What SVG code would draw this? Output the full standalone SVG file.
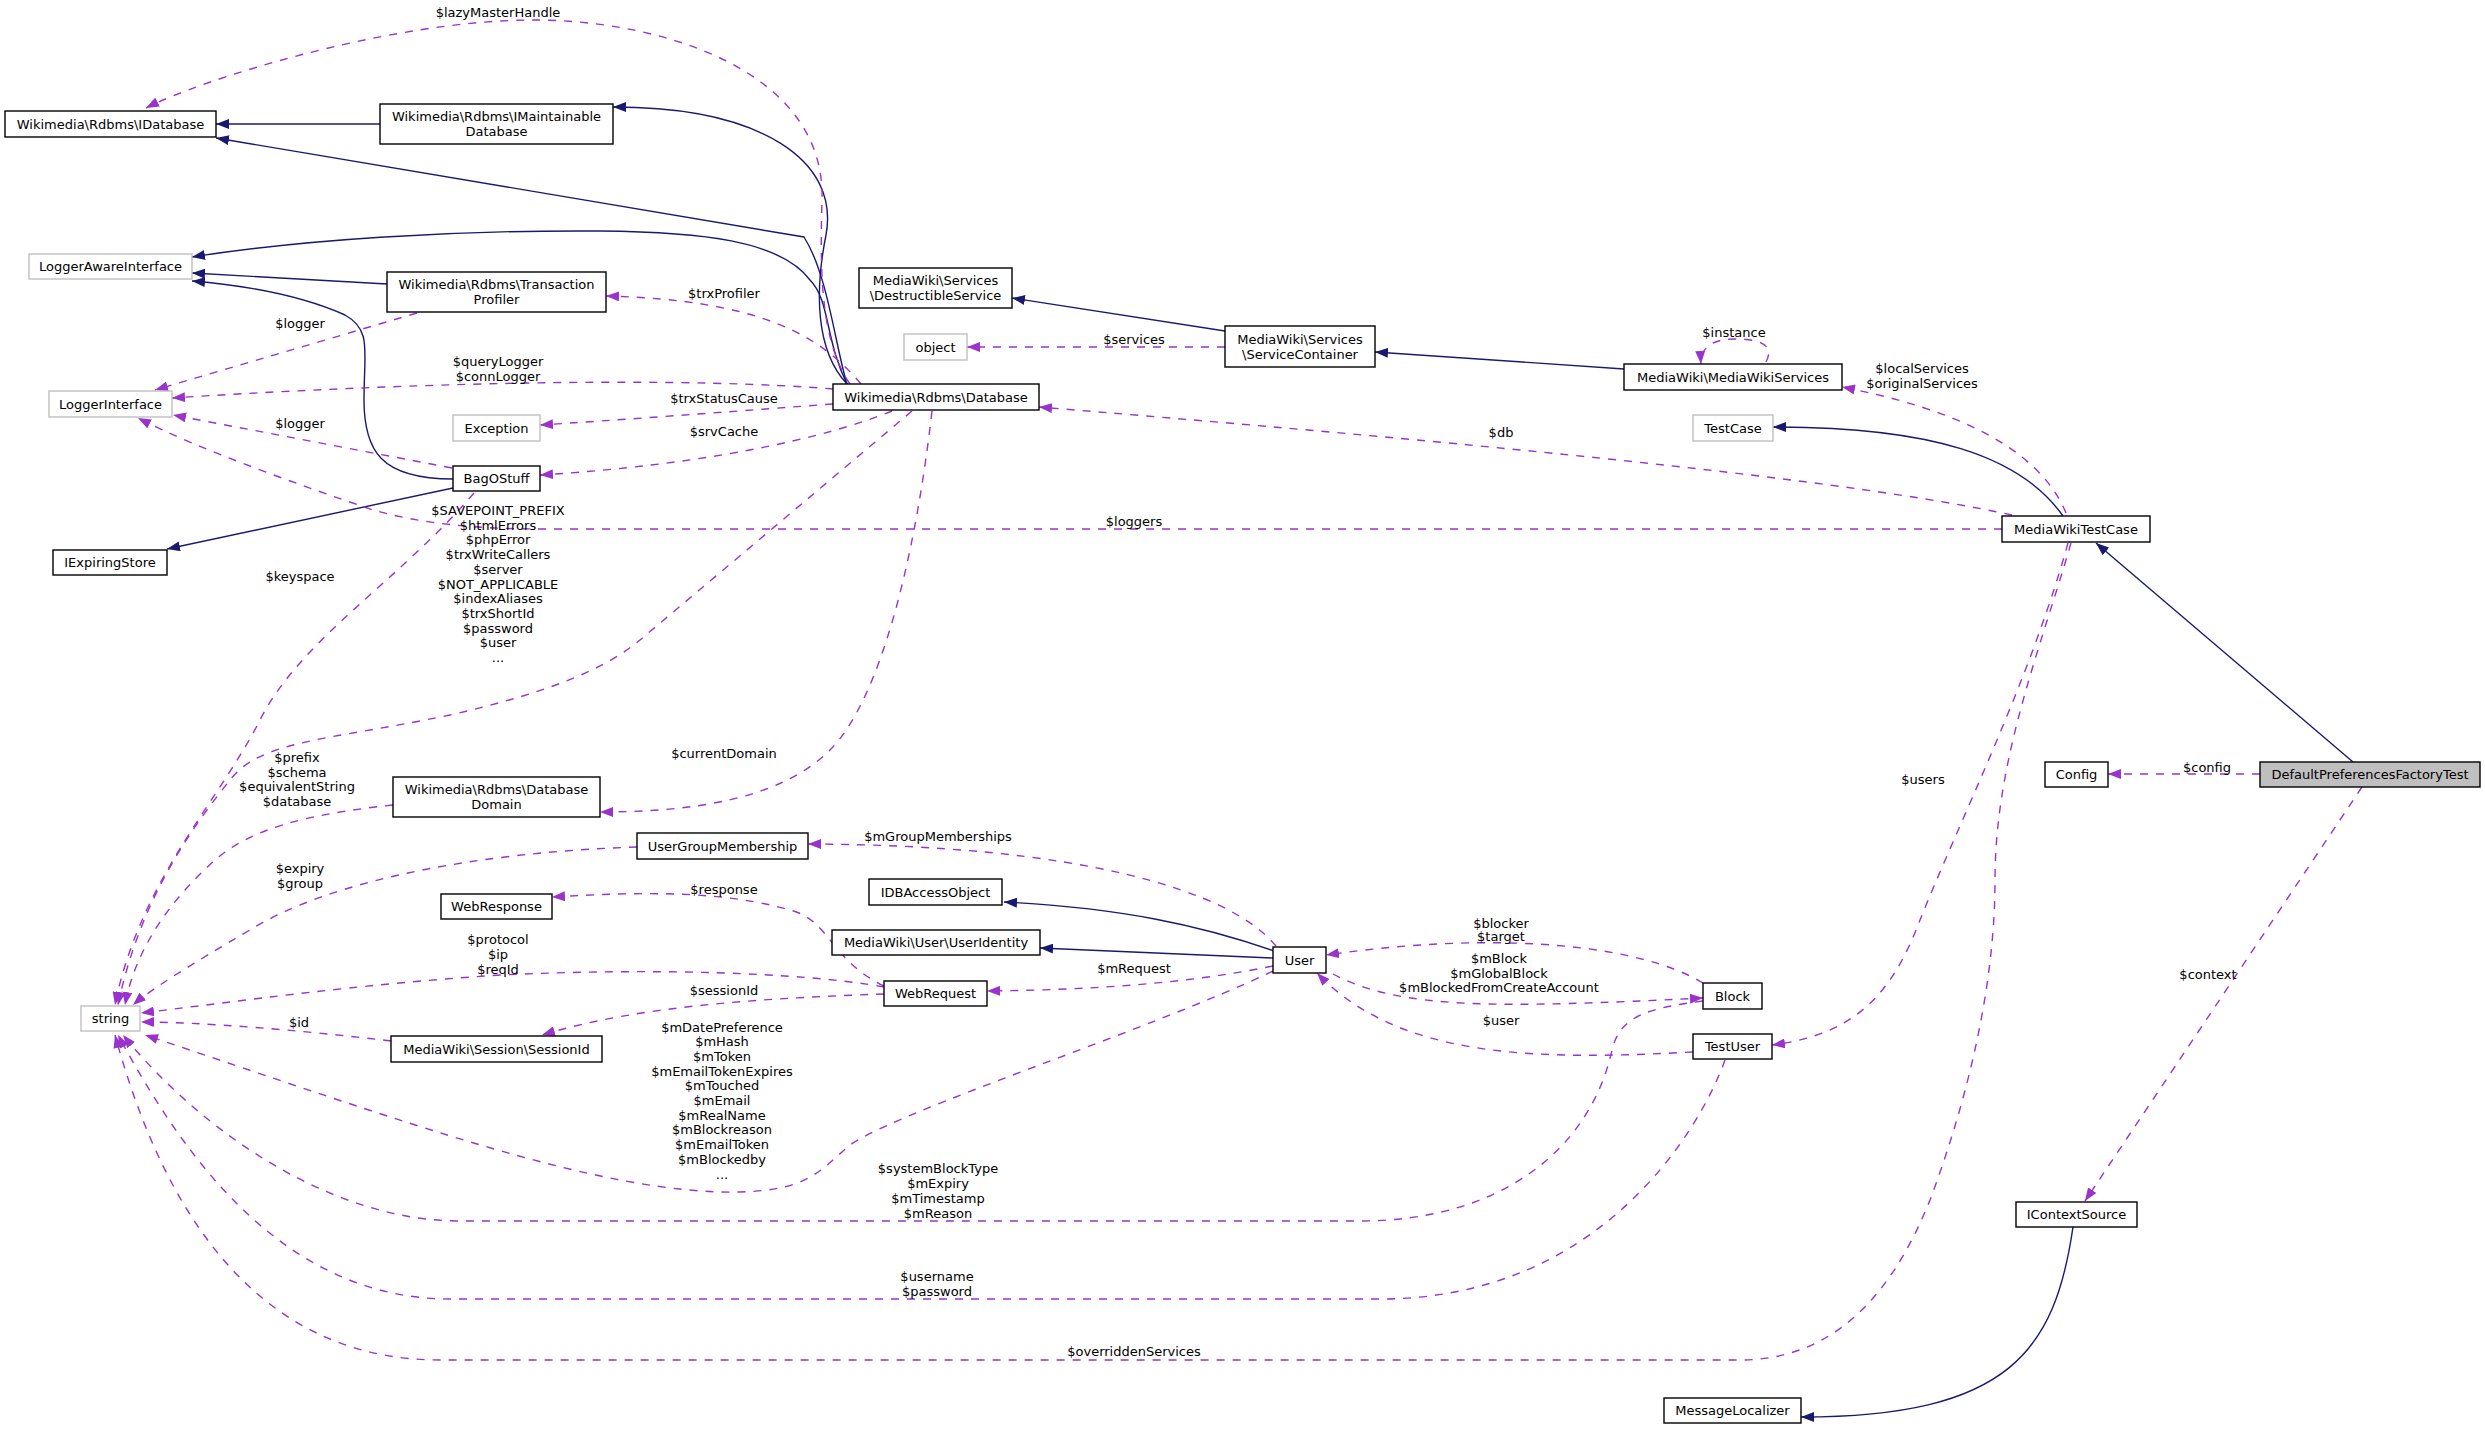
<svg xmlns="http://www.w3.org/2000/svg" width="2485" height="1429" viewBox="0 0 2485 1429">
<style>
.n rect{fill:#fff;stroke:#000;stroke-width:1.4}
.n.g rect{stroke:#bfbfbf}
.n.root rect{fill:#bfbfbf}
text{font-family:"DejaVu Sans","Liberation Sans",sans-serif;font-size:13px;fill:#000;text-anchor:middle}
.i{fill:none;stroke:#191970;stroke-width:1.4;marker-end:url(#ai)}
.u{fill:none;stroke:#9a32cd;stroke-width:1.4;stroke-dasharray:8,8;marker-end:url(#au)}
</style>
<defs>
<marker id="ai" markerUnits="userSpaceOnUse" markerWidth="14" markerHeight="10" refX="13" refY="5" orient="auto"><path d="M0,0 L13,5 L0,10 z" fill="#191970"/></marker>
<marker id="au" markerUnits="userSpaceOnUse" markerWidth="14" markerHeight="10" refX="13" refY="5" orient="auto"><path d="M0,0 L13,5 L0,10 z" fill="#9a32cd"/></marker>
</defs>
<rect width="2485" height="1429" fill="#fff"/>
<g id="connectors">
<path class="i" d="M380,124 L216,124"/>
<path class="i" d="M847,384 C835,345 828,275 804,237 L216,138"/>
<path class="i" d="M847,384 C815,350 815,290 826,235 C840,160 760,107 613,107"/>
<path class="i" d="M847,384 C825,340 830,300 810,280 C780,240 700,232 600,231 C450,230 300,240 192,257"/>
<path class="i" d="M387,284 L192,273"/>
<path class="i" d="M453,479 C380,479 364,450 364,400 C364,350 372,330 345,315 C300,295 240,285 192,281"/>
<path class="i" d="M453,488 L167,549"/>
<path class="i" d="M1225,331 L1012,298"/>
<path class="i" d="M1624,369 L1375,352"/>
<path class="i" d="M2063,516 C2020,455 1930,427 1773,427"/>
<path class="i" d="M2353,762 L2096,543"/>
<path class="i" d="M1274,951 C1200,925 1120,908 1004,902"/>
<path class="i" d="M1273,958 L1040,948"/>
<path class="i" d="M2073,1227 C2055,1350 2010,1417 1801,1417"/>
<path class="u" d="M850,384 C820,340 820,270 822,200 C826,70 660,20 534,20 C390,20 200,80 146,108"/>
<path class="u" d="M861,384 C820,335 760,300 606,296"/>
<path class="u" d="M417,313 L155,390"/>
<path class="u" d="M833,389 C700,378 450,380 172,398"/>
<path class="u" d="M833,404 C750,410 650,418 540,425"/>
<path class="u" d="M452,468 L173,415"/>
<path class="u" d="M892,411 C820,440 700,465 540,475"/>
<path class="u" d="M2002,529 L545,529 C470,529 420,523 373,510 C300,485 200,450 138,418"/>
<path class="u" d="M912,411 L640,640 C610,665 560,690 450,715 C330,740 260,740 230,780 C190,830 140,900 118,1005"/>
<path class="u" d="M474,493 C400,580 300,640 260,720 C220,800 140,880 115,1005"/>
<path class="u" d="M393,805 C300,815 250,830 215,860 C170,900 135,950 125,1005"/>
<path class="u" d="M637,847 C480,852 330,880 250,930 C190,965 150,990 133,1005"/>
<path class="u" d="M884,987 C800,972 650,968 500,975 C350,985 250,1000 141,1013"/>
<path class="u" d="M884,994 C770,998 640,1005 542,1035"/>
<path class="u" d="M391,1041 C300,1030 200,1022 141,1022"/>
<path class="u" d="M1273,971 C1150,1030 900,1110 850,1145 C820,1170 810,1190 740,1192 C600,1195 400,1120 145,1035"/>
<path class="u" d="M1703,1001 C1650,1008 1620,1015 1612,1050 C1590,1150 1500,1221 1360,1221 L460,1221 C330,1221 200,1130 123,1035"/>
<path class="u" d="M1725,1060 C1700,1130 1600,1299 1380,1299 L450,1299 C280,1299 180,1150 118,1035"/>
<path class="u" d="M2071,543 C2040,650 1995,760 1995,880 C1995,1000 1960,1120 1930,1200 C1890,1300 1830,1360 1740,1360 L440,1360 C250,1360 160,1200 115,1035"/>
<path class="u" d="M2068,543 C2030,680 1960,820 1920,920 C1890,1000 1850,1035 1772,1045"/>
<path class="u" d="M2362,787 L2085,1201"/>
<path class="u" d="M2260,774 L2108,774"/>
<path class="u" d="M2066,513 C2040,450 1960,410 1842,387"/>
<path class="u" d="M2012,515 C1850,480 1500,445 1039,407"/>
<path class="u" d="M1766,362 C1775,345 1760,339 1735,339 C1712,339 1700,348 1701,364"/>
<path class="u" d="M1225,347 L967,347"/>
<path class="u" d="M1276,946 C1230,890 1080,845 808,844"/>
<path class="u" d="M884,986 C830,960 830,920 790,910 C720,890 640,892 552,897"/>
<path class="u" d="M1273,966 C1180,985 1080,990 987,991"/>
<path class="u" d="M1333,974 C1400,1010 1500,1008 1703,998"/>
<path class="u" d="M1703,983 C1640,945 1500,930 1326,955"/>
<path class="u" d="M1693,1052 C1540,1060 1400,1060 1317,973"/>
<path class="u" d="M932,411 C915,560 880,700 830,750 C780,800 690,812 600,812"/>
<text x="498" y="17">$lazyMasterHandle</text>
<text x="724" y="298">$trxProfiler</text>
<text x="300" y="328">$logger</text>
<text x="498" y="366">$queryLogger</text>
<text x="498" y="381">$connLogger</text>
<text x="724" y="403">$trxStatusCause</text>
<text x="300" y="428">$logger</text>
<text x="724" y="436">$srvCache</text>
<text x="300" y="581">$keyspace</text>
<text x="498" y="515">$SAVEPOINT_PREFIX</text>
<text x="498" y="529.7">$htmlErrors</text>
<text x="498" y="544.4">$phpError</text>
<text x="498" y="559.1">$trxWriteCallers</text>
<text x="498" y="573.8">$server</text>
<text x="498" y="588.5">$NOT_APPLICABLE</text>
<text x="498" y="603.2">$indexAliases</text>
<text x="498" y="617.9">$trxShortId</text>
<text x="498" y="632.6">$password</text>
<text x="498" y="647.3">$user</text>
<text x="498" y="662">...</text>
<text x="724" y="758">$currentDomain</text>
<text x="297" y="762">$prefix</text>
<text x="297" y="776.7">$schema</text>
<text x="297" y="791.4">$equivalentString</text>
<text x="297" y="806.1">$database</text>
<text x="938" y="841">$mGroupMemberships</text>
<text x="300" y="873">$expiry</text>
<text x="300" y="887.5">$group</text>
<text x="724" y="894">$response</text>
<text x="498" y="944">$protocol</text>
<text x="498" y="959">$ip</text>
<text x="498" y="973.5">$reqId</text>
<text x="724" y="995">$sessionId</text>
<text x="299" y="1027">$id</text>
<text x="722" y="1031.5">$mDatePreference</text>
<text x="722" y="1046.2">$mHash</text>
<text x="722" y="1060.9">$mToken</text>
<text x="722" y="1075.6">$mEmailTokenExpires</text>
<text x="722" y="1090.3">$mTouched</text>
<text x="722" y="1105">$mEmail</text>
<text x="722" y="1119.7">$mRealName</text>
<text x="722" y="1134.4">$mBlockreason</text>
<text x="722" y="1149.1">$mEmailToken</text>
<text x="722" y="1163.8">$mBlockedby</text>
<text x="722" y="1178.5">...</text>
<text x="1134" y="344">$services</text>
<text x="1501" y="437">$db</text>
<text x="1134" y="526">$loggers</text>
<text x="1501" y="927.6">$blocker</text>
<text x="1501" y="941.4">$target</text>
<text x="1499" y="963">$mBlock</text>
<text x="1499" y="977.5">$mGlobalBlock</text>
<text x="1499" y="992">$mBlockedFromCreateAccount</text>
<text x="1501" y="1025">$user</text>
<text x="1134" y="972.5">$mRequest</text>
<text x="938" y="1173">$systemBlockType</text>
<text x="938" y="1188">$mExpiry</text>
<text x="938" y="1203">$mTimestamp</text>
<text x="938" y="1218">$mReason</text>
<text x="937" y="1280.5">$username</text>
<text x="937" y="1295.5">$password</text>
<text x="1134" y="1356.4">$overriddenServices</text>
<text x="1734" y="337">$instance</text>
<text x="1922" y="373">$localServices</text>
<text x="1922" y="388">$originalServices</text>
<text x="2207" y="772">$config</text>
<text x="1923" y="784">$users</text>
<text x="2208" y="979">$context</text>
</g>
<g id="n-idatabase" class="n"><rect x="5" y="111" width="211" height="26"/><text x="110.5" y="128.5">Wikimedia\Rdbms\IDatabase</text></g>
<g id="n-imaintainable" class="n"><rect x="380" y="104" width="233" height="40"/><text x="496.5" y="121">Wikimedia\Rdbms\IMaintainable</text><text x="496.5" y="136">Database</text></g>
<g id="n-loggerawareinterface" class="n g"><rect x="29" y="254" width="163" height="25"/><text x="110.5" y="271">LoggerAwareInterface</text></g>
<g id="n-transactionprofiler" class="n"><rect x="387" y="272" width="219" height="40"/><text x="496.5" y="289">Wikimedia\Rdbms\Transaction</text><text x="496.5" y="304">Profiler</text></g>
<g id="n-loggerinterface" class="n g"><rect x="49" y="391" width="123" height="26"/><text x="110.5" y="408.5">LoggerInterface</text></g>
<g id="n-exception" class="n g"><rect x="453" y="415" width="87" height="26"/><text x="496.5" y="432.5">Exception</text></g>
<g id="n-database" class="n"><rect x="833" y="384" width="206" height="26"/><text x="936" y="401.5">Wikimedia\Rdbms\Database</text></g>
<g id="n-destructibleservice" class="n"><rect x="859" y="268" width="153" height="40"/><text x="935.5" y="285">MediaWiki\Services</text><text x="935.5" y="300">\DestructibleService</text></g>
<g id="n-object" class="n g"><rect x="904" y="334" width="63" height="26"/><text x="935.5" y="351.5">object</text></g>
<g id="n-servicecontainer" class="n"><rect x="1225" y="326" width="150" height="41"/><text x="1300" y="343.5">MediaWiki\Services</text><text x="1300" y="358.5">\ServiceContainer</text></g>
<g id="n-mediawikiservices" class="n"><rect x="1624" y="364" width="218" height="26"/><text x="1733" y="381.5">MediaWiki\MediaWikiServices</text></g>
<g id="n-testcase" class="n g"><rect x="1693" y="415" width="80" height="26"/><text x="1733" y="432.5">TestCase</text></g>
<g id="n-mediawikitestcase" class="n"><rect x="2002" y="516" width="148" height="26"/><text x="2076" y="533.5">MediaWikiTestCase</text></g>
<g id="n-config" class="n"><rect x="2045" y="762" width="63" height="25"/><text x="2076.5" y="779">Config</text></g>
<g id="n-defaultpreferencesfactorytest" class="n root"><rect x="2260" y="762" width="220" height="25"/><text x="2370" y="779">DefaultPreferencesFactoryTest</text></g>
<g id="n-bagostuff" class="n"><rect x="453" y="466" width="87" height="25"/><text x="496.5" y="483">BagOStuff</text></g>
<g id="n-iexpiringstore" class="n"><rect x="53" y="550" width="114" height="25"/><text x="110" y="567">IExpiringStore</text></g>
<g id="n-databasedomain" class="n"><rect x="393" y="777" width="207" height="40"/><text x="496.5" y="794">Wikimedia\Rdbms\Database</text><text x="496.5" y="809">Domain</text></g>
<g id="n-usergroupmembership" class="n"><rect x="637" y="833" width="171" height="26"/><text x="722.5" y="850.5">UserGroupMembership</text></g>
<g id="n-string" class="n g"><rect x="81" y="1006" width="59" height="25"/><text x="110.5" y="1023">string</text></g>
<g id="n-webresponse" class="n"><rect x="441" y="894" width="111" height="25"/><text x="496.5" y="911">WebResponse</text></g>
<g id="n-sessionid" class="n"><rect x="391" y="1036" width="211" height="26"/><text x="496.5" y="1053.5">MediaWiki\Session\SessionId</text></g>
<g id="n-idbaccessobject" class="n"><rect x="869" y="879" width="133" height="26"/><text x="935.5" y="896.5">IDBAccessObject</text></g>
<g id="n-useridentity" class="n"><rect x="832" y="930" width="208" height="25"/><text x="936" y="947">MediaWiki\User\UserIdentity</text></g>
<g id="n-webrequest" class="n"><rect x="884" y="981" width="103" height="25"/><text x="935.5" y="998">WebRequest</text></g>
<g id="n-user" class="n"><rect x="1273" y="947" width="53" height="26"/><text x="1299.5" y="964.5">User</text></g>
<g id="n-block" class="n"><rect x="1703" y="983" width="59" height="26"/><text x="1732.5" y="1000.5">Block</text></g>
<g id="n-testuser" class="n"><rect x="1693" y="1034" width="79" height="25"/><text x="1732.5" y="1051">TestUser</text></g>
<g id="n-icontextsource" class="n"><rect x="2016" y="1202" width="121" height="25"/><text x="2076.5" y="1219">IContextSource</text></g>
<g id="n-messagelocalizer" class="n"><rect x="1664" y="1398" width="137" height="25"/><text x="1732.5" y="1415">MessageLocalizer</text></g>
</svg>
